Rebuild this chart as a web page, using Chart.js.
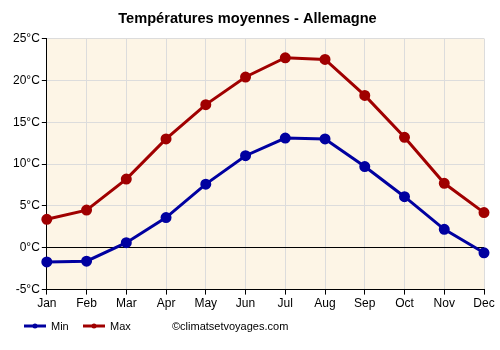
<!DOCTYPE html>
<html><head><meta charset="utf-8">
<script src="https://cdn.jsdelivr.net/npm/chart.js@4/dist/chart.umd.min.js"></script>
<style>html,body{margin:0;padding:0;background:#fff;}#wrap{width:500px;height:350px;}</style>
</head><body><div id="wrap"><canvas id="c" width="500" height="350"></canvas></div>
<script>
const months = ['Jan','Feb','Mar','Apr','May','Jun','Jul','Aug','Sep','Oct','Nov','Dec'];
const minTemps = [-1.7,-1.6,0.6,3.6,7.6,11.0,13.1,13.0,9.7,6.1,2.2,-0.6];
const maxTemps = [3.4,4.5,8.2,13.0,17.1,20.4,22.7,22.5,18.2,13.2,7.7,4.2];
const yTicks = [-5,0,5,10,15,20,25];
const titleText = 'Températures moyennes - Allemagne';
const creditText = '©climatsetvoyages.com';
const seriesNames = ['Min','Max'];
const colors = ['#0000a0','#a00000'];

const bgPlugin = {
  id:'bg',
  beforeDraw(chart){
    const {ctx, chartArea:a} = chart;
    ctx.save(); ctx.fillStyle='#fdf5e6'; ctx.fillRect(a.left,a.top,a.right-a.left,a.bottom-a.top); ctx.restore();
  },
  afterDraw(chart){
    const ctx = chart.ctx;
    ctx.save();
    const items = [{x:24,label:seriesNames[0],c:colors[0]},{x:83,label:seriesNames[1],c:colors[1]}];
    items.forEach(it=>{
      ctx.strokeStyle=it.c; ctx.lineWidth=3; ctx.beginPath(); ctx.moveTo(it.x,326); ctx.lineTo(it.x+22,326); ctx.stroke();
      ctx.fillStyle=it.c; ctx.beginPath(); ctx.arc(it.x+11,326,2.5,0,Math.PI*2); ctx.fill();
      ctx.fillStyle='#000'; ctx.font='11px "Liberation Sans", Arial'; ctx.textBaseline='middle'; ctx.textAlign='left';
      ctx.fillText(it.label,it.x+27,327);
    });
    ctx.font='11px "Liberation Sans", Arial';
    ctx.fillText(creditText,172,327);
    ctx.restore();
  }
};

new Chart(document.getElementById('c'),{
  type:'line',
  data:{labels:months,datasets:[
    {label:seriesNames[0],data:minTemps,borderColor:colors[0],backgroundColor:colors[0],borderWidth:3,pointRadius:4,pointHoverRadius:4,tension:0},
    {label:seriesNames[1],data:maxTemps,borderColor:colors[1],backgroundColor:colors[1],borderWidth:3,pointRadius:4,pointHoverRadius:4,tension:0}
  ]},
  options:{
    responsive:false,animation:false,
    layout:{padding:{left:11,right:16,top:0,bottom:37}},
    plugins:{
      legend:{display:false},tooltip:{enabled:false},
      title:{display:true,text:titleText,color:'#000',font:{family:'"Liberation Sans", Arial',size:14.6,weight:'bold'},padding:{top:10,bottom:11}}
    },
    scales:{
      x:{offset:false,grid:{color:'#dcdcdc',tickColor:'#000',tickLength:5,drawTicks:true},border:{color:'#000'},
         ticks:{color:'#000',font:{family:'"Liberation Sans", Arial',size:12},padding:2,maxRotation:0,autoSkip:false}},
      y:{min:-5,max:25,afterBuildTicks(ax){ax.ticks=yTicks.map(v=>({value:v}));},
         grid:{color:(c)=>c.tick&&c.tick.value===0?'#000':'#dcdcdc',lineWidth:1,tickColor:'#000',tickLength:5},border:{color:'#000'},
         ticks:{color:'#000',font:{family:'"Liberation Sans", Arial',size:12},padding:2,callback:(v)=>v+'°C'}}
    }
  },
  plugins:[bgPlugin]
});
</script></body></html>
